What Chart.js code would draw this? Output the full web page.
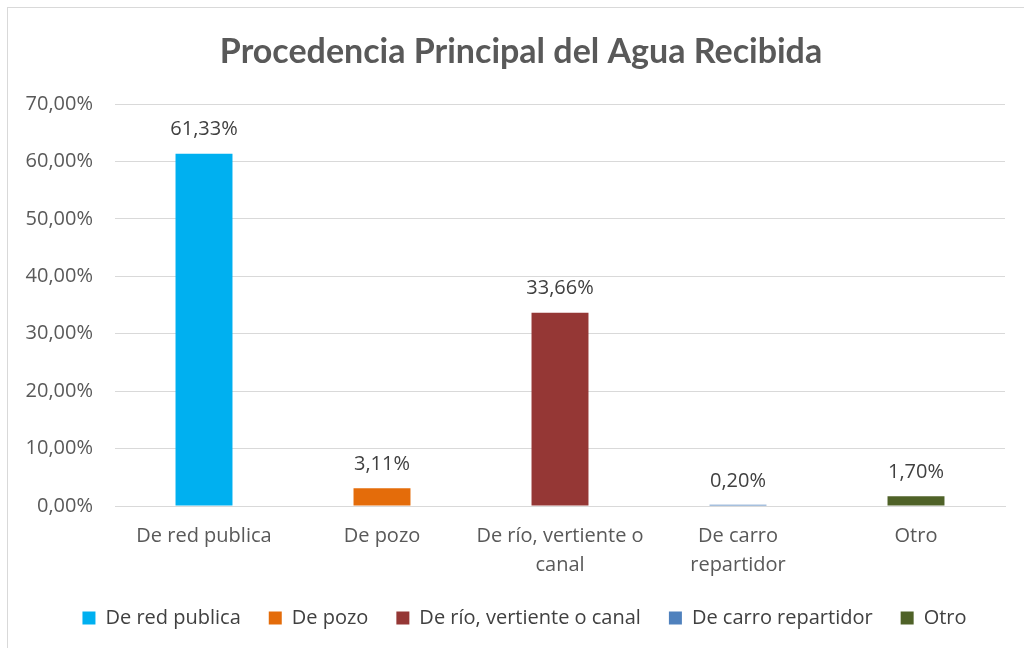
<!DOCTYPE html>
<html><head><meta charset="utf-8">
<script src="https://cdn.jsdelivr.net/npm/chart.js@4.4.0/dist/chart.umd.min.js"></script>
<style>
html,body{margin:0;padding:0;background:#fff;overflow:hidden}
#wrap{position:absolute;left:0;top:0;width:1024px;height:648px}
#frame{position:absolute;left:7px;top:7px;width:1030px;height:660px;border:1px solid #D9D9D9;pointer-events:none}
</style></head>
<body>
<div id="wrap"><canvas id="c" width="1024" height="648"></canvas></div>
<div id="frame"></div>
<script>
const chartTitle = "Procedencia Principal del Agua Recibida";
const categories = ["De red publica","De pozo","De río, vertiente o canal","De carro repartidor","Otro"];
const tickLabels = [["De red publica"],["De pozo"],["De río, vertiente o","canal"],["De carro","repartidor"],["Otro"]];
const values = [61.33, 3.11, 33.66, 0.20, 1.70];
const colors = ["#00B0F0","#E46C0A","#953735","#4F81BD","#4F6228"];

const fmt = v => v.toFixed(2).replace('.', ',') + '%';
const FONT = "'Open Sans', sans-serif";
const TFONT = "Lato, 'Open Sans', sans-serif";

const labelPlugin = {
  id:'dl',
  afterDatasetsDraw(chart){
    const ctx = chart.ctx;
    const meta = chart.getDatasetMeta(0);
    ctx.save();
    ctx.font = "20px " + FONT;
    ctx.fillStyle = "#404040";
    ctx.textAlign = "center";
    ctx.textBaseline = "middle";
    meta.data.forEach((bar,i)=>{
      ctx.fillText(fmt(values[i]), bar.x, bar.y - 24);
    });
    ctx.restore();
  }
};
const titlePlugin = {
  id:'ttl',
  afterLayout(chart){
    if (chart.legend){ chart.legend.left += 12; chart.legend.right += 12; }
  },
  afterDraw(chart){
    const ctx = chart.ctx;
    ctx.save();
    ctx.font = "bold 34px " + TFONT;
    ctx.fillStyle = "#595959";
    ctx.textAlign = "center";
    ctx.textBaseline = "middle";
    ctx.fillText(chartTitle, 521, 52);
    ctx.restore();
  }
};

new Chart(document.getElementById('c'), {
  type:'bar',
  data:{
    labels: tickLabels,
    datasets:[{data: values, backgroundColor: colors, borderWidth:0, barPercentage:0.64, categoryPercentage:0.5}]
  },
  options:{
    responsive:false,
    animation:false,
    devicePixelRatio:1,
    layout:{padding:{left:20,right:19,top:104,bottom:10}},
    plugins:{
      title:{display:false},
      legend:{position:'bottom',
        labels:{
          font:{family:FONT,size:20},color:"#404040",boxWidth:13,boxHeight:13,padding:28,
          generateLabels(chart){
            return categories.map((c,i)=>({text:c,fillStyle:colors[i],strokeStyle:colors[i],lineWidth:0,index:i,fontColor:"#404040"}));
          }
        },
        onClick:()=>{}
      },
      tooltip:{enabled:false}
    },
    scales:{
      y:{min:0,max:70,
        afterFit(s){ s.width = 95; },
        ticks:{stepSize:10,padding:22,color:"#595959",font:{family:FONT,size:20},callback:v=>fmt(v)},
        grid:{color:"#D9D9D9",lineWidth:1,drawTicks:false},
        border:{display:false}
      },
      x:{
        afterFit(s){ s.height = 74; },
        ticks:{padding:16,color:"#595959",font:{family:FONT,size:20,lineHeight:1.45},maxRotation:0,autoSkip:false},
        grid:{display:false,drawTicks:false},
        border:{display:true,color:"#D9D9D9",width:1}
      }
    }
  },
  plugins:[labelPlugin, titlePlugin]
});
</script>
</body></html>
